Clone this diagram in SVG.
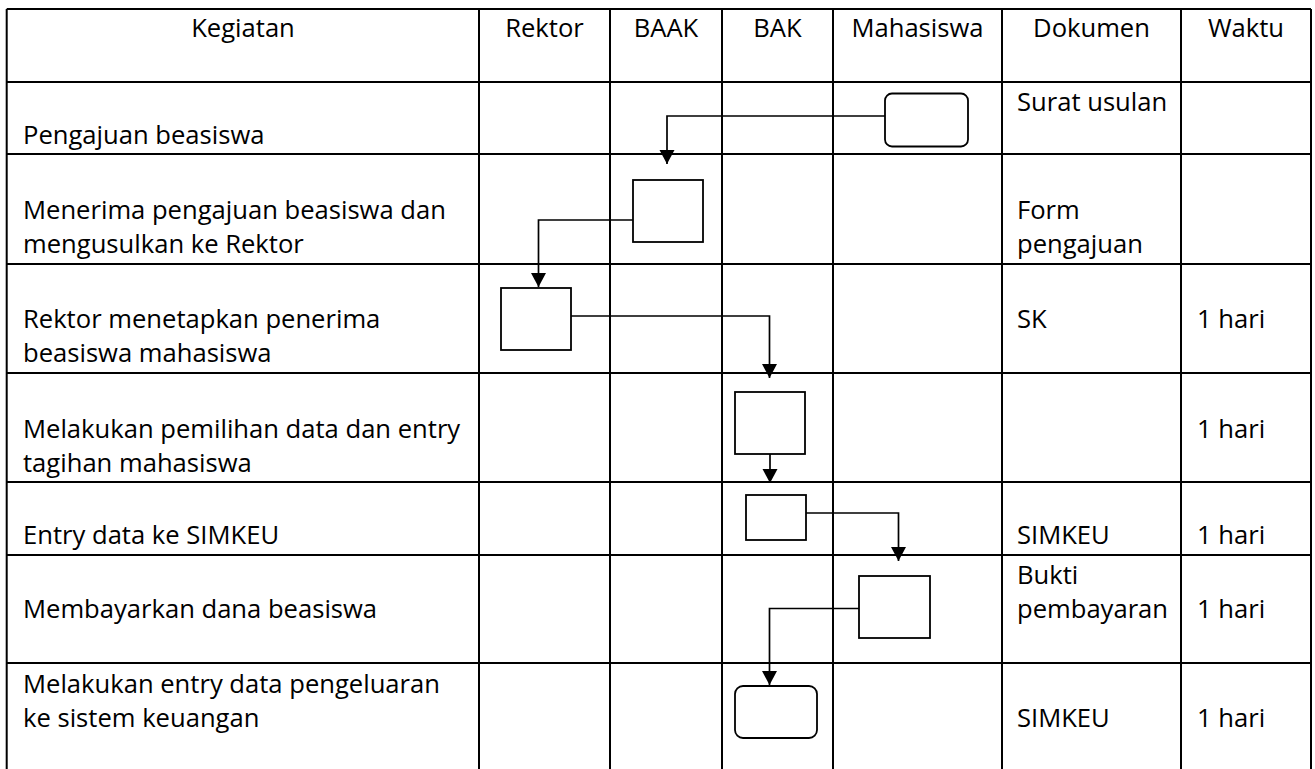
<svg xmlns="http://www.w3.org/2000/svg" width="1315" height="769" viewBox="0 0 1315 769">
<style>
.grid{stroke:#000;stroke-width:2;fill:none}
.box{fill:#fff;stroke:#000;stroke-width:1.8}
.conn{fill:none;stroke:#000;stroke-width:1.7}
text{font-family:"Open Sans","Noto Sans","Liberation Sans",sans-serif;font-size:25.6px;fill:#000}
.h{text-anchor:middle}
</style>
<defs>
<marker id="arr" markerUnits="userSpaceOnUse" markerWidth="16" markerHeight="16" refX="14" refY="7.5" orient="auto">
<path d="M0,0 L14,7.5 L0,15 z" fill="#000"/>
</marker>
</defs>
<rect width="1315" height="769" fill="#fff"/>
<g id="table" class="grid">
<path d="M6.7,9 H1311 M6.7,9 V769 M1311,9 V769"/>
<path d="M479,9 V769 M610,9 V769 M722,9 V769 M833,9 V769 M1002,9 V769 M1181,9 V769"/>
<path d="M6.7,82 H1311 M6.7,154 H1311 M6.7,264 H1311 M6.7,373 H1311 M6.7,482 H1311 M6.7,555 H1311 M6.7,663 H1311"/>
</g>
<g id="header">
<text class="h" x="243" y="37">Kegiatan</text>
<text class="h" x="544.5" y="37">Rektor</text>
<text class="h" x="666" y="37">BAAK</text>
<text class="h" x="777.5" y="37">BAK</text>
<text class="h" x="917.5" y="37">Mahasiswa</text>
<text class="h" x="1091.5" y="37">Dokumen</text>
<text class="h" x="1246" y="37">Waktu</text>
</g>
<g id="kegiatan">
<text x="23" y="144">Pengajuan beasiswa</text>
<text x="23" y="219">Menerima pengajuan beasiswa dan</text>
<text x="23" y="253">mengusulkan ke Rektor</text>
<text x="23" y="328">Rektor menetapkan penerima</text>
<text x="23" y="362">beasiswa mahasiswa</text>
<text x="23" y="438">Melakukan pemilihan data dan entry</text>
<text x="23" y="472">tagihan mahasiswa</text>
<text x="23" y="544">Entry data ke SIMKEU</text>
<text x="23" y="618">Membayarkan dana beasiswa</text>
<text x="23" y="693">Melakukan entry data pengeluaran</text>
<text x="23" y="727">ke sistem keuangan</text>
</g>
<g id="dokumen">
<text x="1017" y="111">Surat usulan</text>
<text x="1017" y="219">Form</text>
<text x="1017" y="253">pengajuan</text>
<text x="1017" y="328">SK</text>
<text x="1017" y="544">SIMKEU</text>
<text x="1017" y="584">Bukti</text>
<text x="1017" y="618">pembayaran</text>
<text x="1017" y="727">SIMKEU</text>
</g>
<g id="waktu">
<text x="1197" y="328">1 hari</text>
<text x="1197" y="438">1 hari</text>
<text x="1197" y="544">1 hari</text>
<text x="1197" y="618">1 hari</text>
<text x="1197" y="727">1 hari</text>
</g>
<g id="connectors" class="conn">
<path d="M885,116 H667 V164" marker-end="url(#arr)"/>
<path d="M633,220 H538.5 V287" marker-end="url(#arr)"/>
<path d="M571,316 H769.5 V378" marker-end="url(#arr)"/>
<path d="M770,454 V483" marker-end="url(#arr)"/>
<path d="M806,513 H898.5 V561" marker-end="url(#arr)"/>
<path d="M859,608.5 H769.5 V685" marker-end="url(#arr)"/>
</g>
<g id="n1"><rect class="box" x="885" y="93.5" width="83" height="53" rx="7"/></g>
<g id="n2"><rect class="box" x="633" y="180" width="70" height="62"/></g>
<g id="n3"><rect class="box" x="501" y="288" width="70" height="62"/></g>
<g id="n4"><rect class="box" x="735" y="392" width="70" height="62"/></g>
<g id="n5"><rect class="box" x="746" y="495" width="60" height="45"/></g>
<g id="n6"><rect class="box" x="859" y="576" width="71" height="62"/></g>
<g id="n7"><rect class="box" x="735" y="686" width="82" height="52" rx="8"/></g>
</svg>
